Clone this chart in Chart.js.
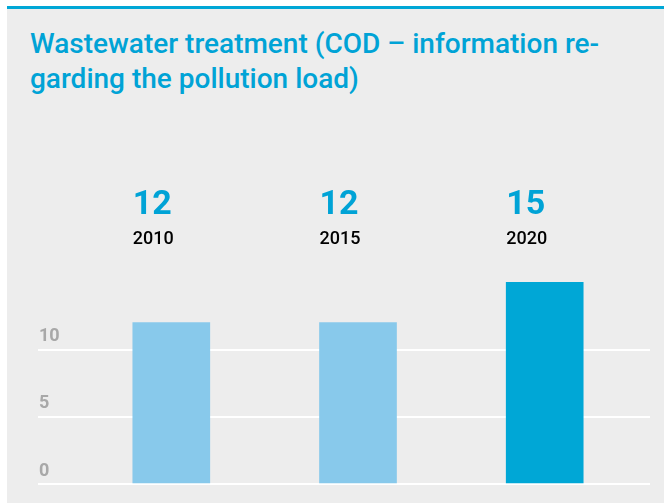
<!DOCTYPE html>
<html>
<head>
<meta charset="utf-8">
<script src="https://cdn.jsdelivr.net/npm/chart.js@4"></script>
<style>
  html, body { margin: 0; padding: 0; background: #fff; }
  #wrap { position: relative; width: 664px; height: 503px; overflow: hidden; }
  #panel { position: absolute; left: 7px; top: 6px; right: 0; bottom: 0; background: #ededed; border-top: 3px solid #00a7d6; }
  #titulo { position: absolute; left: 30px; top: 26px; margin: 0; color: #00a3d6;
    font: 500 28px Roboto, sans-serif; line-height: 35px; }
  canvas { position: absolute; left: 0; top: 0; }
</style>
</head>
<body>
<div id="wrap">
  <div id="panel"></div>
  <h1 id="titulo">Wastewater treatment (COD – information re-<br>garding the pollution load)</h1>
  <canvas id="grafico" width="664" height="503"></canvas>
</div>
<script>
// dados
const anos = ['2010', '2015', '2020'];
const valoresCOD = [12, 12, 15];
const coresBarras = ['#88c9eb', '#88c9eb', '#00a7d6'];
const ticksY = [0, 5, 10];

// rótulos acima das barras: valor grande + ano
const rotulosTopo = {
  id: 'rotulosTopo',
  afterDatasetsDraw(chart) {
    const { ctx } = chart;
    const meta = chart.getDatasetMeta(0);
    ctx.save();
    ctx.textAlign = 'left';
    ctx.textBaseline = 'alphabetic';
    meta.data.forEach((bar, i) => {
      const x = bar.x - bar.width / 2;
      ctx.fillStyle = '#00a3d6';
      ctx.font = 'bold 34px Roboto, sans-serif';
      ctx.fillText(String(valoresCOD[i]), x, 214);
      ctx.fillStyle = '#000';
      ctx.font = '500 18px Roboto, sans-serif';
      ctx.fillText(anos[i], x, 244);
    });
    ctx.restore();
  }
};

new Chart(document.getElementById('grafico'), {
  type: 'bar',
  data: {
    datasets: [{
      data: valoresCOD.map((v, i) => ({ x: i, y: v })),
      backgroundColor: coresBarras,
      barThickness: 77
    }]
  },
  options: {
    responsive: false,
    animation: false,
    layout: { padding: { left: 36, right: 14, top: 215, bottom: 19 } },
    plugins: { legend: { display: false }, tooltip: { enabled: false } },
    scales: {
      x: { type: 'linear', offset: false, min: -0.714, max: 2.564, display: false },
      y: {
        min: 0, max: 20,
        afterBuildTicks: s => { s.ticks = ticksY.map(v => ({ value: v })); },
        border: { display: false },
        grid: { color: '#ffffff', lineWidth: 2, drawTicks: false },
        ticks: {
          mirror: true, padding: 1, labelOffset: -13,
          color: '#a8a8a8', font: { family: 'Roboto, sans-serif', size: 18, weight: 'bold' }
        }
      }
    }
  },
  plugins: [rotulosTopo]
});
</script>
</body>
</html>
